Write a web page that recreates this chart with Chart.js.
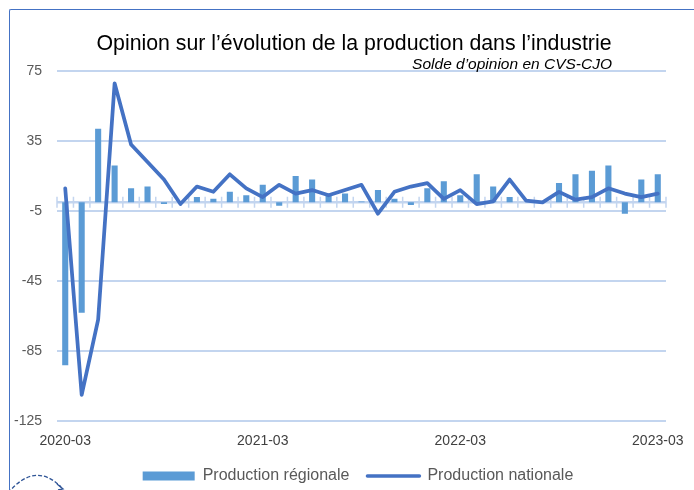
<!DOCTYPE html>
<html>
<head>
<meta charset="utf-8">
<script src="https://cdn.jsdelivr.net/npm/chart.js@4"></script>
<style>
html,body{margin:0;padding:0;background:#fff;overflow:hidden;width:694px;height:490px;}
#wrap{position:relative;width:694px;height:490px;overflow:hidden;background:#fff;}
#frame{position:absolute;left:9px;top:9px;width:700px;height:500px;border-left:1.5px solid #4472C4;border-top:1.5px solid #4472C4;border-top-left-radius:2px;}
#title{position:absolute;left:0;width:708px;top:31px;text-align:center;font-family:'Liberation Sans',Arial,sans-serif;font-size:21.3px;line-height:normal;color:#000;white-space:nowrap;}
#subtitle{position:absolute;right:82px;top:55px;font-family:'Liberation Sans',Arial,sans-serif;font-style:italic;font-size:15.5px;line-height:normal;color:#000;white-space:nowrap;}
#c{position:absolute;left:0;top:0;}
#logo{position:absolute;left:0;top:0;}
</style>
</head>
<body>
<div id="wrap">
  <div id="frame"></div>
  <canvas id="c" width="694" height="494"></canvas>
  <div id="title">Opinion sur l’évolution de la production dans l’industrie</div>
  <div id="subtitle">Solde d’opinion en CVS-CJO</div>
  <svg id="logo" width="694" height="490">
    <path d="M 8 493 Q 35 461 61 487" fill="none" stroke="#2F5597" stroke-width="1.3" stroke-dasharray="4 2"/>
    <path d="M 57 484 L 63 489 L 58 490" fill="none" stroke="#2F5597" stroke-width="1.3"/>
  </svg>
</div>
<script>
// ---- Data ----
const categories = [
  '2020-03','2020-04','2020-05','2020-06','2020-07','2020-08','2020-09','2020-10','2020-11','2020-12',
  '2021-01','2021-02','2021-03','2021-04','2021-05','2021-06','2021-07','2021-08','2021-09','2021-10',
  '2021-11','2021-12','2022-01','2022-02','2022-03','2022-04','2022-05','2022-06','2022-07','2022-08',
  '2022-09','2022-10','2022-11','2022-12','2023-01','2023-02','2023-03'
];
const productionRegionale = [
  -93, -63, 42, 21, 8, 9, -1, 0, 3, 2,
  6, 4, 10, -2, 15, 13, 4, 5, 0.5, 7,
  2, -1.5, 8, 12, 4, 16, 9, 3, 0, 0,
  11, 16, 18, 21, -6.5, 13, 16
];
const productionNationale = [
  8, -110, -67, 68, 33, 23, 13, -1, 9, 6,
  16, 8, 3, 10, 5, 7, 4, 7, 10, -6.5,
  6, 9, 11, 2, 7, -1, 0.5, 13, 1, 0,
  6, 1.5, 3, 8, 5, 3, 5
];
const xTickLabels = ['2020-03','2021-03','2022-03','2023-03'];
const yTicks = [-125, -85, -45, -5, 35, 75];

const FONT = "'Liberation Sans', Arial, sans-serif";

// zero axis with small category tick marks, drawn from the scales
const zeroAxis = {
  id: 'zeroAxis',
  beforeDatasetsDraw(chart) {
    const {ctx, chartArea, scales: {x, y}} = chart;
    const y0 = y.getPixelForValue(0);
    const bw = x.getPixelForValue(1) - x.getPixelForValue(0);
    const start = x.getPixelForValue(0) - bw / 2;
    ctx.save();
    ctx.strokeStyle = '#C3D5EF';
    ctx.lineWidth = 2.5;
    ctx.beginPath();
    ctx.moveTo(chartArea.left, y0);
    ctx.lineTo(chartArea.right, y0);
    ctx.stroke();
    ctx.lineWidth = 1.5;
    ctx.beginPath();
    for (let i = 0; i <= categories.length; i++) {
      const px = start + i * bw;
      ctx.moveTo(px, y0 - 5.5);
      ctx.lineTo(px, y0 + 5.5);
    }
    ctx.stroke();
    ctx.restore();
  }
};

const legendShift = {
  id: 'legendShift',
  afterLayout(chart) {
    const l = chart.legend;
    if (l) { l.left += 18; l.right += 18; }
  }
};

new Chart(document.getElementById('c'), {
  type: 'bar',
  data: {
    labels: categories,
    datasets: [
      {
        label: 'Production régionale',
        data: productionRegionale,
        backgroundColor: '#5B9BD5',
        borderWidth: 0,
        barPercentage: 0.37,
        categoryPercentage: 1,
        order: 1
      },
      {
        type: 'line',
        label: 'Production nationale',
        data: productionNationale,
        borderColor: '#4472C4',
        backgroundColor: '#4472C4',
        borderWidth: 3.75,
        pointRadius: 0,
        tension: 0,
        borderJoinStyle: 'round',
        borderCapStyle: 'round',
        order: 0
      }
    ]
  },
  options: {
    responsive: false,
    animation: false,
    devicePixelRatio: 1,
    layout: { padding: { left: 14, right: 28, top: 71, bottom: 0 } },
    scales: {
      x: {
        offset: true,
        grid: { display: false, drawTicks: false },
        border: { display: false },
        afterFit(scale) {
          scale.paddingLeft = 0;
          scale.paddingRight = 0;
          scale.height -= 12;
        },
        ticks: {
          autoSkip: false,
          maxRotation: 0,
          minRotation: 0,
          padding: 12,
          color: '#404040',
          font: { family: FONT, size: 14 },
          callback: function(value, index) {
            const lab = categories[index];
            return xTickLabels.includes(lab) ? lab : null;
          }
        }
      },
      y: {
        min: -125,
        max: 75,
        afterBuildTicks: (s) => { s.ticks = yTicks.map(v => ({ value: v })); },
        afterFit(scale) { scale.width = 43; },
        grid: { color: '#C3D5EF', lineWidth: 2, drawTicks: false },
        border: { display: false },
        ticks: {
          padding: 15,
          color: '#595959',
          font: { family: FONT, size: 14 }
        }
      }
    },
    plugins: {
      title: { display: false },
      tooltip: { enabled: false },
      legend: {
        position: 'bottom',
        labels: {
          usePointStyle: true,
          pointStyleWidth: 52,
          boxHeight: 9,
          padding: 18,
          color: '#595959',
          font: { family: FONT, size: 16 },
          generateLabels(chart) {
            const items = Chart.defaults.plugins.legend.labels.generateLabels(chart);
            items.sort((a, b) => a.datasetIndex - b.datasetIndex);
            items.forEach(it => {
              if (it.datasetIndex === 0) {
                it.pointStyle = 'rect';
                it.lineWidth = 0;
                it.fillStyle = '#5B9BD5';
                it.strokeStyle = '#5B9BD5';
              } else {
                it.pointStyle = 'line';
                it.lineWidth = 3.5;
                it.lineCap = 'round';
                it.strokeStyle = '#4472C4';
                it.fillStyle = '#4472C4';
              }
            });
            return items;
          }
        }
      }
    }
  },
  plugins: [zeroAxis, legendShift]
});
</script>
</body>
</html>
